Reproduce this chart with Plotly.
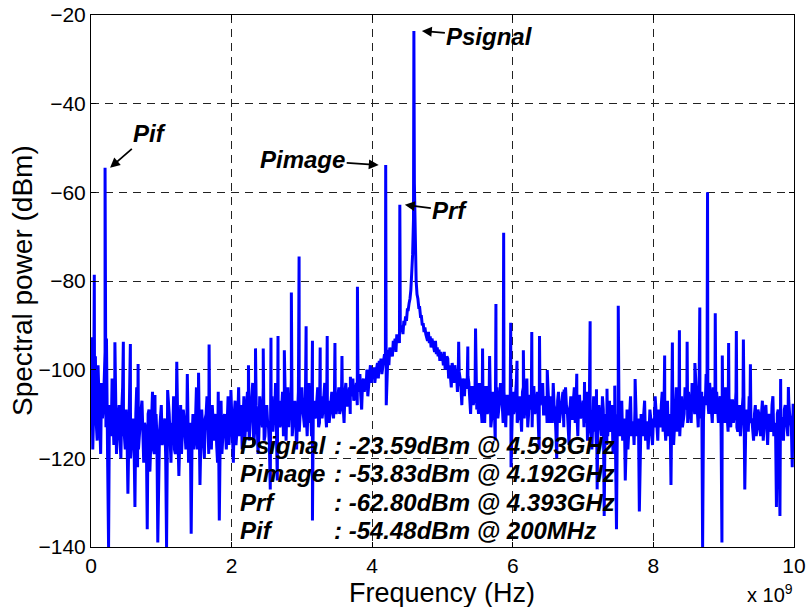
import numpy as np
import plotly.graph_objects as go

# Spectrum noise floor on a 25 MHz grid (dBm), 0 .. 10 GHz
F_STEP_GHZ = 0.025
floor_dbm = [
    -93, -118, -104, -112, -99, -114, -103, -109, -96, -106, -140, -110, -102, -117, -105, -113, -108, -120, -104, -115,
    -109, -128, -106, -116, -111, -131, -104, -118, -112, -107, -121, -113, -136, -109, -117, -105, -119, -110, -139, -114,
    -108, -115, -111, -140, -107, -117, -112, -106, -119, -110, -124, -108, -115, -111, -118, -106, -113, -137, -110, -116,
    -104, -114, -126, -109, -117, -111, -106, -119, -112, -108, -116, -110, -121, -134, -107, -114, -110, -118, -106, -113,
    -109, -121, -107, -114, -104, -112, -118, -106, -111, -105, -116, -109, -103, -113, -108, -119, -106, -111, -104, -115,
    -108, -113, -127, -106, -110, -103, -125, -107, -112, -105, -110, -116, -104, -109, -102, -112, -107, -118, -105, -110,
    -104, -111, -106, -115, -103, -109, -134, -107, -110, -104, -112, -106, -109, -103, -113, -107, -110, -105, -111, -106,
    -108, -104, -109, -105, -112, -103, -108, -104, -106, -102, -106, -103, -105, -101, -109, -102, -103, -100, -102, -99,
    -100, -99.5, -101, -98.5, -98, -97.5, -99, -96.5, -108, -95.5, -95, -96, -93.5, -93, -92, -92.5, -90.5, -90, -89, -88,
    -86.5, -85, -82, -74, -58, -80, -84, -86, -88, -89.5, -90.5, -93, -91.5, -92.5, -93, -95, -93.5, -95, -95.5, -96,
    -97, -96, -98, -97.5, -99, -104, -100, -99, -101, -100, -102, -108, -103, -102, -104, -103, -110, -104, -106, -104,
    -107, -103, -110, -105, -112, -104, -108, -102, -111, -106, -116, -104, -109, -103, -108, -105, -113, -106, -110, -122,
    -105, -109, -103, -111, -106, -114, -104, -108, -102, -110, -106, -113, -104, -109, -105, -118, -107, -103, -110, -106,
    -104, -112, -107, -103, -109, -120, -105, -110, -106, -113, -104, -109, -117, -106, -111, -104, -108, -115, -106, -110,
    -107, -112, -105, -114, -109, -118, -106, -111, -127, -108, -113, -106, -133, -110, -115, -107, -112, -119, -108, -136,
    -110, -115, -107, -113, -125, -109, -114, -106, -112, -117, -108, -113, -132, -110, -115, -107, -112, -118, -109, -114,
    -111, -106, -115, -109, -113, -105, -110, -116, -107, -112, -126, -108, -113, -104, -110, -115, -106, -111, -104, -109,
    -105, -110, -103, -108, -102, -109, -104, -111, -140, -106, -101, -107, -103, -109, -104, -110, -105, -112, -106, -139,
    -108, -104, -111, -106, -113, -107, -110, -105, -114, -108, -112, -106, -127, -109, -114, -107, -111, -116, -108, -113,
    -110, -115, -107, -112, -108, -117, -110, -114, -106, -112, -131, -109, -133, -111, -116, -108, -113, -107, -112, -122,
    -108,
]
# Interleaved bins, half a step after each of the bins above (dBm)
floor_mid_dbm = [
    -101, -110, -97, -116, -107, -119, -111, -100, -113, -122, -108, -115, -111, -106, -119, -110, -116, -109, -113, -118,
    -115, -111, -120, -113, -117, -110, -122, -114, -109, -118, -112, -116, -110, -123, -113, -118, -112, -115, -120, -111,
    -117, -112, -120, -114, -110, -121, -115, -118, -111, -116, -113, -119, -109, -117, -114, -121, -112, -116, -118, -111,
    -118, -112, -116, -113, -120, -110, -115, -112, -118, -114, -111, -117, -113, -116, -119, -111, -115, -112, -117, -110,
    -114, -110, -117, -111, -115, -108, -113, -116, -109, -114, -111, -106, -117, -112, -110, -115, -109, -113, -116, -110,
    -112, -117, -109, -114, -111, -116, -110, -113, -108, -115, -111, -107, -113, -110, -115, -108, -112, -110, -114, -107,
    -109, -113, -110, -108, -112, -115, -109, -111, -107, -113, -109, -111, -106, -110, -108, -112, -107, -109, -106, -110,
    -106, -110, -107, -109, -105, -108, -106, -110, -104, -107, -105, -108, -104, -106, -103, -105, -104, -106, -101, -103,
    -101, -103, -100, -102, -99.5, -101, -98, -99, -97.5, -99, -96.5, -97, -95, -96, -93.5, -94, -91.5, -92, -90, -89,
    -86.5, -84, -78, -66, -70, -83, -86, -88, -90, -91.5, -92, -93.5, -94, -95, -94.5, -96, -96.5, -97, -98, -97.5,
    -99, -100, -97, -102, -101, -98.5, -103, -101, -105, -100.5, -104, -102, -106, -104, -101.5, -107, -104, -108, -105, -109,
    -110, -106, -112, -108, -104, -110, -107, -113, -105, -109, -106, -111, -107, -104, -112, -109, -106, -110, -108, -113,
    -110, -106, -112, -108, -110, -105, -111, -107, -113, -106, -109, -104, -110, -107, -112, -108, -105, -110, -107, -112,
    -109, -106, -112, -108, -114, -107, -112, -109, -105, -110, -108, -113, -109, -111, -107, -112, -110, -106, -111, -109,
    -113, -109, -116, -110, -112, -108, -114, -117, -110, -112, -115, -109, -113, -117, -110, -114, -108, -112, -115, -111,
    -113, -110, -116, -111, -114, -118, -110, -115, -112, -109, -115, -111, -117, -113, -110, -116, -112, -114, -111, -117,
    -113, -110, -116, -111, -108, -114, -112, -109, -115, -110, -113, -117, -109, -114, -111, -108, -113, -110, -107, -112,
    -108, -112, -106, -110, -107, -113, -109, -105, -111, -108, -104, -110, -107, -112, -108, -106, -111, -108, -113, -110,
    -112, -108, -114, -110, -107, -112, -109, -113, -110, -115, -108, -111, -114, -110, -106, -112, -114, -110, -115, -109,
    -113, -110, -116, -109, -114, -111, -112, -108, -115, -113, -110, -116, -111, -114, -109, -112, -115, -110, -113, -108,
]
freq_ghz = np.arange(len(floor_dbm)) * F_STEP_GHZ
freq_mid_ghz = (np.arange(len(floor_mid_dbm)) + 0.5) * F_STEP_GHZ

# Spurious tones (GHz, dBm)
spur_ghz = [0.012, 0.047, 0.22, 0.34, 0.46, 0.56, 0.67, 0.91, 1.09, 1.22, 1.37, 1.53, 1.68, 1.81, 1.99,
            2.24, 2.34, 2.45, 2.56, 2.66, 2.75, 2.85, 2.96, 3.06, 3.15, 3.26, 3.36, 3.47, 3.57, 3.69, 3.79,
            5.23, 5.36, 5.47, 5.57, 5.67, 5.76, 5.87, 5.97, 6.06, 6.15, 6.27, 6.38, 6.49, 6.73, 6.91,
            7.02, 7.10, 7.19, 7.34, 7.45, 7.50, 7.74, 8.16, 8.27, 8.37, 8.48, 8.59, 8.66, 8.77, 8.88,
            8.98, 9.07, 9.18, 9.28, 9.38, 9.81, 9.92]
spur_dbm = [-93, -78.6, -93, -93.8, -93.7, -94.2, -98.7, -105.7, -104.6, -98.2, -101, -100.7, -94.3, -105, -104.6,
            -99, -95.2, -95.2, -92.8, -92.4, -95.6, -82.6, -74.5, -90.2, -93.5, -95, -92.4, -94, -96.9, -101.6, -81.3,
            -93.7, -94.8, -90.7, -95.2, -96.9, -85.2, -69.1, -89.4, -98, -95.6, -91.5, -92.4, -100.1, -104.5, -100.9,
            -102.8, -89.1, -104.4, -104.3, -103.6, -85.6, -102.1, -96.8, -93.9, -91.1, -93.7, -98.5, -86, -60, -87.3,
            -96.8, -94, -91.3, -93.2, -98.8, -102.1, -103.9]

# Labelled tones
tone_names = ["Psignal", "Pimage", "Prf", "Pif"]
tone_ghz = [4.593, 4.192, 4.393, 0.200]
tone_dbm = [-23.59, -53.83, -62.80, -54.48]

x_ticks = [0, 2, 4, 6, 8, 10]
y_ticks = [-20, -40, -60, -80, -100, -120, -140]

all_f = np.concatenate([freq_ghz, freq_mid_ghz, spur_ghz, tone_ghz])
all_p = np.concatenate([floor_dbm, floor_mid_dbm, spur_dbm, tone_dbm])
order = np.argsort(all_f, kind="stable")

FONT = "Liberation Sans, Arial, sans-serif"

fig = go.Figure(go.Scatter(
    x=all_f[order] * 1e9, y=all_p[order], mode="lines",
    line=dict(color="#0000ff", width=3), hoverinfo="skip"))

L, R, T, B, W, H = 91, 16, 15, 60, 810, 607
PW, PH = W - L - R, H - T - B


def paper(px, py):
    return (px - L) / PW, (H - B - py) / PH


axis_style = dict(ticks="inside", ticklen=5, tickwidth=1, tickcolor="black",
                  showline=True, linecolor="black", linewidth=1, mirror="ticks",
                  showgrid=True, gridcolor="#222222", gridwidth=1, griddash="8px,6px",
                  zeroline=False, automargin=False,
                  tickfont=dict(size=21, family=FONT, color="black"))

fig.update_xaxes(range=[0, 1e10], tickvals=[v * 1e9 for v in x_ticks],
                 ticktext=[str(v) for v in x_ticks], **axis_style)
fig.update_yaxes(range=[-140, -20], tickvals=y_ticks, **axis_style)

annotations = []

# Axis titles and exponent
xt = paper(442, 593)
annotations.append(dict(text="Frequency (Hz)", xref="paper", yref="paper", x=xt[0], y=xt[1],
                        showarrow=False, font=dict(size=27, family=FONT), xanchor="center", yanchor="middle"))
yt = paper(22, 281)
annotations.append(dict(text="Spectral power (dBm)", xref="paper", yref="paper", x=yt[0], y=yt[1],
                        showarrow=False, textangle=-90, font=dict(size=28, family=FONT),
                        xanchor="center", yanchor="middle"))
et = paper(795, 593)
annotations.append(dict(text="x 10<sup>9</sup>", xref="paper", yref="paper", x=et[0], y=et[1],
                        showarrow=False, font=dict(size=20, family=FONT), xanchor="right", yanchor="middle"))

# Arrow labels on the tones: (xshift, ax, ay)
arrow_geom = {"Psignal": (8, 68, 6), "Pimage": (-7, -76, -5), "Prf": (5, 45, 6), "Pif": (5, 39, -34)}
for name, f, p in zip(tone_names, tone_ghz, tone_dbm):
    xs, ax, ay = arrow_geom[name]
    annotations.append(dict(text=f"<b><i>{name}</i></b>", x=f * 1e9, y=p, xref="x", yref="y",
                            xshift=xs, ax=ax, ay=ay, showarrow=True, arrowhead=2, arrowsize=1.1,
                            arrowwidth=1.8, arrowcolor="black", standoff=0,
                            font=dict(size=24, family=FONT, color="black")))

# Summary text block
rows_py = [445, 474, 502, 530]
for name, f, p, py in zip(tone_names, tone_ghz, tone_dbm, rows_py):
    freq_txt = f"{f * 1000:.0f}MHz" if f < 1 else f"{f:.3f}GHz"
    a = paper(238, py)
    b = paper(332, py)
    annotations.append(dict(text=f"<b><i>{name}</i></b>", xref="paper", yref="paper", x=a[0], y=a[1],
                            showarrow=False, xanchor="left", yanchor="middle",
                            font=dict(size=24, family=FONT, color="black")))
    annotations.append(dict(text=f"<b><i>: {p:.2f}dBm @ {freq_txt}</i></b>", xref="paper", yref="paper",
                            x=b[0], y=b[1], showarrow=False, xanchor="left", yanchor="middle",
                            font=dict(size=24, family=FONT, color="black")))

fig.update_layout(width=W, height=H, margin=dict(l=L, r=R, t=T, b=B, autoexpand=False),
                  paper_bgcolor="white", plot_bgcolor="white", showlegend=False,
                  font=dict(family=FONT, color="black"), annotations=annotations)

fig.write_html("out.html")
